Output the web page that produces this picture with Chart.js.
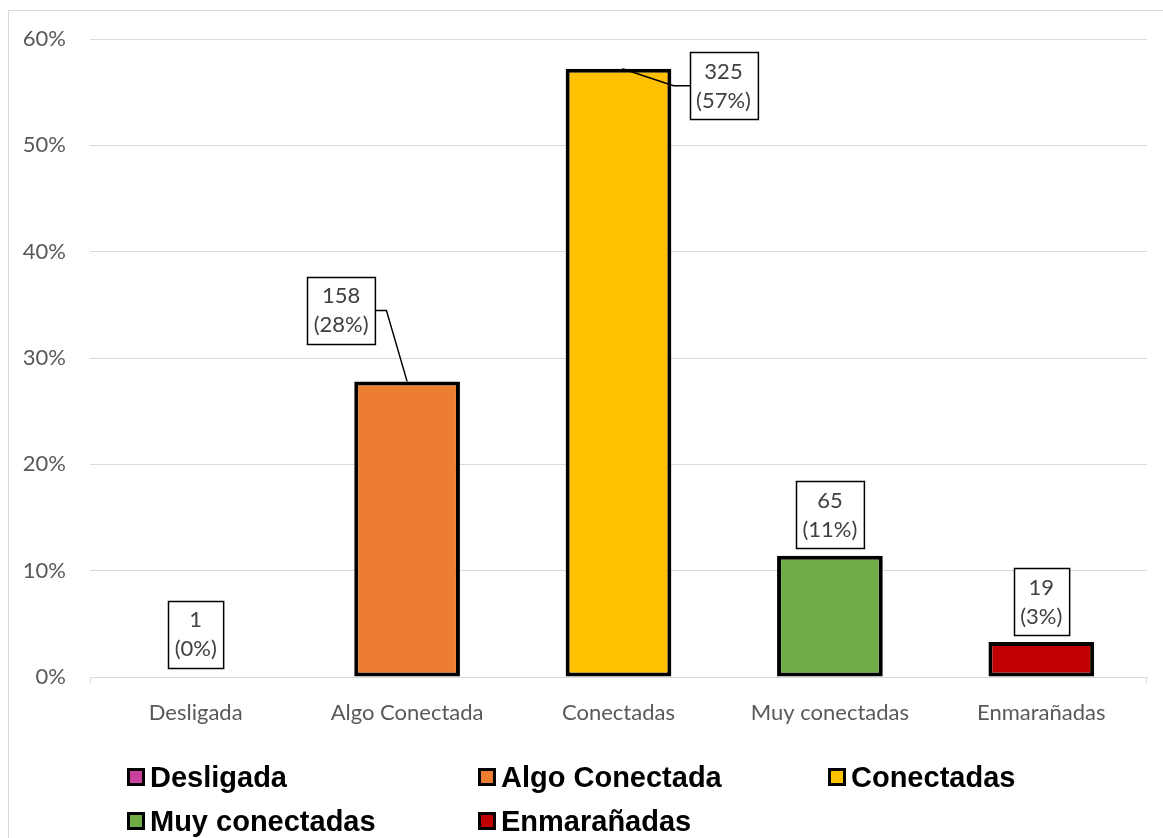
<!DOCTYPE html>
<html>
<head>
<meta charset="utf-8">
<script src="https://cdn.jsdelivr.net/npm/chart.js@4"></script>
<style>
  body { margin: 0; background: #fff; }
  #wrap { position: relative; width: 1163px; height: 838px; overflow: hidden; }
  #frame { position: absolute; left: 8px; top: 10px; width: 1200px; height: 900px; border: 1px solid #d9d9d9; }
  canvas { position: absolute; left: 0; top: 0; }
  .leg { position: absolute; font: bold 29px "Liberation Sans", Arial, sans-serif; color: #000; white-space: nowrap; line-height: 34px; }
  .leg i { position: absolute; left: 0; top: 8px; width: 18px; height: 18px; border: 3px solid #000; box-sizing: border-box; }
  .leg span { margin-left: 23px; }
</style>
</head>
<body>
<div id="wrap">
  <div id="frame"></div>
  <canvas id="chart" width="1163" height="838"></canvas>
  <div id="legend"></div>
</div>
<script>
// categorias y valores
const categories = ['Desligada', 'Algo Conectada', 'Conectadas', 'Muy conectadas', 'Enmarañadas'];
const counts = [1, 158, 325, 65, 19];
const percents = [0, 27.8, 57.2, 11.4, 3.3];
const colors = ['#CC3F9C', '#ED7D31', '#FFC000', '#70AD47', '#C00000'];
const yTicks = [0, 10, 20, 30, 40, 50, 60];

// posicion de las etiquetas (dx, dy respecto al tope de la barra) y guia
const labelPos = [
    { dx: 0, dy: -43, leader: false },
    { dx: -66, dy: -71, leader: true },
    { dx: 105, dy: 17, leader: true },
    { dx: 0, dy: -41, leader: false },
    { dx: 0, dy: -40, leader: false }
];

const labelFont = '22px Lato, "Open Sans", sans-serif';

const boxLabels = {
    id: 'boxLabels',
    afterDatasetsDraw(chart) {
        const ctx = chart.ctx;
        const meta = chart.getDatasetMeta(0);
        ctx.save();
        ctx.font = labelFont;
        meta.data.forEach((bar, i) => {
            const l1 = String(counts[i]);
            const l2 = '(' + Math.round(percents[i]) + '%)';
            const w = Math.max(ctx.measureText(l1).width, ctx.measureText(l2).width) + 13;
            const h = 67;
            const cx = bar.x + labelPos[i].dx;
            const cy = bar.y + labelPos[i].dy;
            const x0 = Math.round(cx - w / 2) + 0.5;
            const y0 = Math.round(cy - h / 2) + 0.5;
            ctx.strokeStyle = '#000';
            ctx.lineWidth = 1.5;
            if (labelPos[i].leader) {
                ctx.beginPath();
                if (labelPos[i].dx < 0) {
                    ctx.moveTo(x0 + w, cy);
                    ctx.lineTo(x0 + w + 11, cy);
                    ctx.lineTo(bar.x, bar.y);
                } else {
                    ctx.moveTo(x0, cy);
                    ctx.lineTo(x0 - 17, cy);
                    ctx.lineTo(bar.x + 4, bar.y);
                }
                ctx.stroke();
            }
            ctx.fillStyle = '#fff';
            ctx.fillRect(x0, y0, w, h);
            ctx.strokeRect(x0, y0, w, h);
            ctx.fillStyle = '#404040';
            ctx.textAlign = 'center';
            ctx.textBaseline = 'middle';
            ctx.fillText(l1, cx, cy - 14);
            ctx.fillText(l2, cx, cy + 15);
        });
        // marcas en los extremos del eje x
        const a = chart.chartArea;
        ctx.strokeStyle = '#d9d9d9';
        ctx.lineWidth = 1;
        ctx.beginPath();
        ctx.moveTo(Math.round(a.left) + 0.5, a.bottom);
        ctx.lineTo(Math.round(a.left) + 0.5, a.bottom + 6);
        ctx.moveTo(Math.round(a.right) - 0.5, a.bottom);
        ctx.lineTo(Math.round(a.right) - 0.5, a.bottom + 6);
        ctx.stroke();
        ctx.restore();
    }
};

new Chart(document.getElementById('chart'), {
    type: 'bar',
    data: {
        labels: categories,
        datasets: [{
            data: percents,
            backgroundColor: colors,
            borderColor: '#000',
            borderWidth: 4,
            borderSkipped: false,
            barPercentage: 0.5,
            categoryPercentage: 1
        }]
    },
    options: {
        responsive: false,
        animation: false,
        layout: { padding: { top: 39, left: 0, right: 16, bottom: 111 } },
        plugins: { legend: { display: false }, tooltip: { enabled: false } },
        scales: {
            x: {
                afterFit: s => { s.height = 50; },
                grid: { display: false },
                border: { display: true, color: '#d9d9d9', width: 1 },
                ticks: { color: '#595959', font: { family: 'Lato', size: 22 }, padding: 15, maxRotation: 0 }
            },
            y: {
                min: 0,
                max: 60,
                afterFit: s => { s.width = 90; },
                afterBuildTicks: s => { s.ticks = yTicks.map(v => ({ value: v })); },
                grid: { color: '#d9d9d9', lineWidth: 1, drawTicks: false },
                border: { display: false },
                ticks: { color: '#595959', font: { family: 'Lato', size: 22 }, padding: 24, callback: v => v + '%' }
            }
        }
    },
    plugins: [boxLabels]
});

// leyenda
const legendPos = [[127, 760], [478, 760], [828, 760], [127, 804], [478, 804]];
const legend = document.getElementById('legend');
categories.forEach((c, i) => {
    const d = document.createElement('div');
    d.className = 'leg';
    d.style.left = legendPos[i][0] + 'px';
    d.style.top = legendPos[i][1] + 'px';
    d.innerHTML = '<i style="background:' + colors[i] + '"></i><span>' + c + '</span>';
    legend.appendChild(d);
});
</script>
</body>
</html>
